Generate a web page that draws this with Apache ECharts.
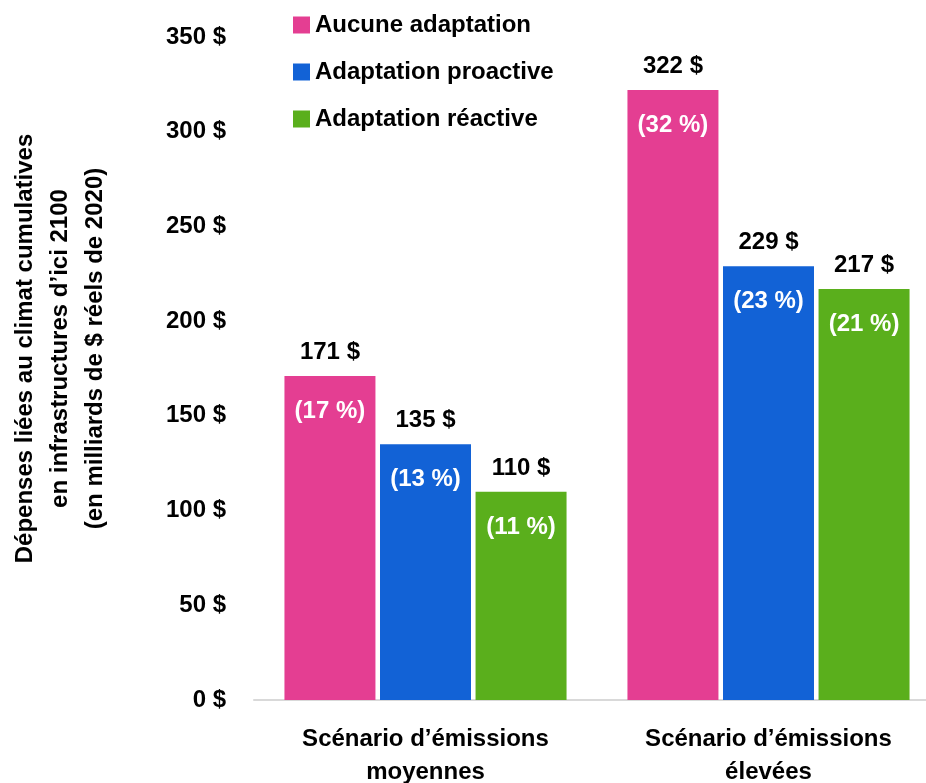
<!DOCTYPE html>
<html>
<head>
<meta charset="utf-8">
<script src="https://cdn.jsdelivr.net/npm/echarts@6/dist/echarts.min.js"></script>
<style>
html, body { margin: 0; padding: 0; background: #fff; }
#chart { width: 926px; height: 783px; }
</style>
</head>
<body>
<div id="chart"></div>
<script>
// données
var categories = ['Scénario d’émissions\nmoyennes', 'Scénario d’émissions\nélevées'];
var seriesNames = ['Aucune adaptation', 'Adaptation proactive', 'Adaptation réactive'];
var aucune = [171, 322];
var proactive = [135, 229];
var reactive = [110, 217];
var pctAucune = [17, 32];
var pctProactive = [13, 23];
var pctReactive = [11, 21];
var colors = ['#E43E92', '#1262D6', '#5AAF1C'];

var font = '"Liberation Sans", Arial, sans-serif';

var chart = echarts.init(document.getElementById('chart'));

// une série de barres : montant au-dessus, pourcentage dans la barre
function makeSeries(idx, values, pcts) {
	return {
		name: seriesNames[idx],
		type: 'bar',
		data: values,
		barWidth: 91,
		barGap: '5%',
		itemStyle: {
			color: colors[idx]
		},
		label: {
			show: true,
			position: 'top',
			distance: 0,
			offset: [0, 65],
			formatter: function (p) {
				return '{v|' + p.value + ' $}\n{p|(' + pcts[p.dataIndex] + ' %)}';
			},
			rich: {
				v: {
					color: '#000',
					fontFamily: font,
					fontWeight: 'bold',
					fontSize: 24,
					lineHeight: 59
				},
				p: {
					color: '#fff',
					fontFamily: font,
					fontWeight: 'bold',
					fontSize: 24,
					lineHeight: 59
				}
			}
		}
	};
}

var option = {
	backgroundColor: '#fff',
	animation: false,
	legend: {
		orient: 'vertical',
		left: 288,
		top: 8,
		icon: 'rect',
		itemWidth: 17,
		itemHeight: 17,
		itemGap: 23,
		data: seriesNames,
		textStyle: {
			color: '#000',
			fontFamily: font,
			fontWeight: 'bold',
			fontSize: 24
		}
	},
	grid: {
		left: 254,
		right: -14,
		top: 37,
		bottom: 83,
		outerBoundsMode: 'none'
	},
	xAxis: {
		type: 'category',
		data: categories,
		axisTick: { show: false },
		axisLine: { lineStyle: { color: '#d9d9d9', width: 2 } },
		axisLabel: {
			color: '#000',
			fontFamily: font,
			fontWeight: 'bold',
			fontSize: 24,
			lineHeight: 33,
			margin: 23
		}
	},
	yAxis: {
		type: 'value',
		min: 0,
		max: 350,
		interval: 50,
		splitLine: { show: false },
		axisLine: { show: false },
		axisTick: { show: false },
		axisLabel: {
			color: '#000',
			fontFamily: font,
			fontWeight: 'bold',
			fontSize: 24,
			margin: 28,
			formatter: '{value} $'
		},
		name: 'Dépenses liées au climat cumulatives\nen infrastructures d’ici 2100\n(en milliards de $ réels de 2020)',
		nameLocation: 'middle',
		nameRotate: 90,
		nameGap: 141,
		nameTextStyle: {
			color: '#000',
			fontFamily: font,
			fontWeight: 'bold',
			fontSize: 24,
			lineHeight: 35,
			padding: [0, 0, 0, 40]
		}
	},
	series: [
		makeSeries(0, aucune, pctAucune),
		makeSeries(1, proactive, pctProactive),
		makeSeries(2, reactive, pctReactive)
	]
};

chart.setOption(option);
</script>
</body>
</html>
